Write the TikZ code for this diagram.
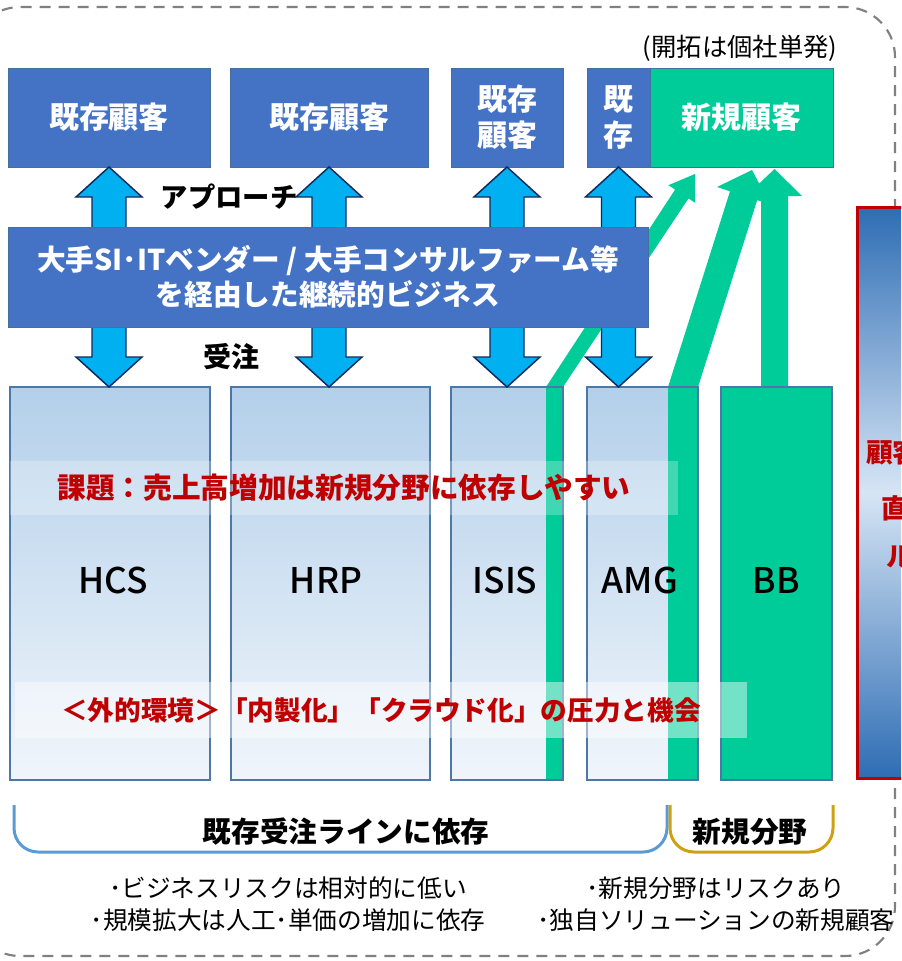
\documentclass[tikz,border=0pt]{standalone}
\usepackage{fontspec}
\setmainfont{Noto Sans CJK JP}
\newfontfamily\medfont{Noto Sans CJK JP Medium}
\usetikzlibrary{calc}
\definecolor{dkblue}{HTML}{4472C4}
\definecolor{dkedge}{HTML}{41719C}
\definecolor{skyblue}{HTML}{00B0F0}
\definecolor{navyline}{HTML}{0E2A5C}
\definecolor{grn}{HTML}{00CC99}
\definecolor{ltop}{HTML}{B3D0EA}
\definecolor{lbot}{HTML}{F0F5FB}
\definecolor{ledge}{HTML}{4C77A6}
\definecolor{redtxt}{HTML}{C00000}
\definecolor{brblue}{HTML}{5B9BD5}
\definecolor{brgold}{HTML}{D0A010}
\definecolor{dashgray}{HTML}{808080}
\definecolor{rbdark}{HTML}{2E6DB4}
\definecolor{rblight}{HTML}{D6E5F5}
\tikzset{
 topbox/.style={draw=dkedge, line width=0.75pt, fill=dkblue, text=white, font=\fontsize{22.5}{27}\selectfont\bfseries, align=center, inner sep=0pt, outer sep=0pt},
 grnbox/.style={topbox, fill=grn},
 botbox/.style={draw=ledge, line width=1.1pt, top color=ltop, bottom color=lbot, inner sep=0pt, outer sep=0pt},
 boxlabel/.style={text=black, font=\fontsize{26.5}{30}\medfont, inner sep=0pt},
 dblarrow/.style={fill=skyblue, draw=navyline, line width=1.1pt, line join=miter},
 grnarrow/.style={fill=grn, draw=none},
 band/.style={fill=white, draw=none, text opacity=1, inner sep=0pt},
 redlabel/.style={text=redtxt, font=\fontsize{21.5}{26}\selectfont\bfseries},
 blacklabel/.style={text=black, font=\fontsize{20.5}{25}\selectfont\bfseries, inner sep=0pt},
 note/.style={text=black, font=\fontsize{18.5}{24}\selectfont, align=center, inner sep=0pt},
 bracket/.style={line width=2.25pt, rounded corners=18pt},
}
\newcommand\dblarr[2]{%
 \draw[dblarrow] let \p1=(#1.south), \p2=(#2.north) in
  (\x1-12.75pt,\y1-22.5pt) -- (\x1-24.75pt,\y1-22.5pt) -- (\x1,\y1) -- (\x1+24.75pt,\y1-22.5pt) -- (\x1+12.75pt,\y1-22.5pt)
  -- (\x1+12.75pt,\y2+22.5pt) -- (\x1+24.75pt,\y2+22.5pt) -- (\x1,\y2) -- (\x1-24.75pt,\y2+22.5pt) -- (\x1-12.75pt,\y2+22.5pt) -- cycle;}
\begin{document}
\begin{tikzpicture}[x=0.75pt, y=-0.75pt]
\useasboundingbox (0,0) rectangle (901,961);
\begin{scope}
\clip (0,0) rectangle (901,961);
% outer dashed frame
\draw[dashgray, line width=1.6pt, dash pattern=on 8.25pt off 6pt, rounded corners=37.5pt] (-30,7) rectangle (895,956);

% green arrows (behind)
\fill[grnarrow] (546,387) -- (563,387) -- (688.5,198.4) -- (695.2,202.8) -- (695,174) -- (668.4,185.2) -- (675.1,189.6) -- cycle;
\fill[grnarrow] (668,387) -- (698,387) -- (757.2,200.1) -- (770.2,204.4) -- (752,170) -- (717,187) -- (730,191.3) -- cycle;
\fill[grnarrow] (761,387) -- (788,387) -- (788,196) -- (802,196) -- (774.5,169) -- (746,196) -- (761,196) -- cycle;

% top boxes
\node[topbox, minimum width=151.5pt, minimum height=74.25pt] (t1) at (109,117.5) {既存顧客};
\node[topbox, minimum width=148.5pt, minimum height=74.25pt] (t2) at (329,117.5) {既存顧客};
\node[topbox, minimum width=84pt, minimum height=74.25pt] (t3) at (507,117.5) {既存\\顧客};
\node[topbox, minimum width=47.25pt, minimum height=74.25pt] (t4) at (618.5,117.5) {既\\存};
\node[grnbox, minimum width=137.25pt, minimum height=74.25pt] (t5) at (741.5,117.5) {新規顧客};
\node[text=black, font=\fontsize{19}{23}\selectfont, inner sep=0pt] (kaitaku) at (740,48) {(開拓は個社単発)};

% bottom boxes
\node[botbox, minimum width=150pt, minimum height=294.75pt] (b1) at (110,583.5) {};
\node[botbox, minimum width=149.25pt, minimum height=294.75pt] (b2) at (330.5,583.5) {};
\node[botbox, minimum width=84pt, minimum height=294.75pt] (b3) at (507,583.5) {};
\node[botbox, minimum width=83.25pt, minimum height=294.75pt] (b4) at (642.5,583.5) {};
\node[draw=ledge, line width=1.1pt, fill=grn, inner sep=0pt, outer sep=0pt, minimum width=83.25pt, minimum height=294.75pt] (b5) at (776.5,583.5) {};
\fill[grn] (546,387) rectangle (562,780);
\fill[grn] (668,387) rectangle (697,780);
\draw[ledge, line width=1.1pt] (b3.south west) rectangle (b3.north east);
\draw[ledge, line width=1.1pt] (b4.south west) rectangle (b4.north east);

% double arrows
\dblarr{t1}{b1}
\dblarr{t2}{b2}
\dblarr{t3}{b3}
\dblarr{t4}{b4}

% middle box
\node[topbox, font=\fontsize{21.5}{26.25}\selectfont\bfseries, minimum width=480pt, minimum height=75pt] (m) at (328,277) {大手SI･ITベンダー / 大手コンサルファーム等\\を経由した継続的ビジネス};

\node[blacklabel] (appr) at (229,197) {アプローチ};
\node[blacklabel, font=\fontsize{21}{25}\selectfont\bfseries] (juchu) at (231,357) {受注};

% box labels
\node[boxlabel] (lhcs) at (113,580) {HCS};
\node[boxlabel] (lhrp) at (326,580) {HRP};
\node[boxlabel] (lisis) at (505,580) {ISIS};
\node[boxlabel] (lamg) at (640,580) {AMG};
\node[boxlabel] (lbb) at (776,580) {BB};

% bands
\node[band, fill opacity=0.25, minimum width=501pt, minimum height=40.5pt, redlabel] (issue) at (344,487.5) {課題：売上高増加は新規分野に依存しやすい};
\node[band, fill opacity=0.45, minimum width=549pt, minimum height=42pt, redlabel, font=\fontsize{20}{25}\selectfont\bfseries] (env) at (381,710) {＜外的環境＞「内製化」「クラウド化」の圧力と機会};

% brackets
\draw[bracket, brblue] (14,805) -- (14,852) -- (667,852) -- (667,805);
\draw[bracket, brgold] (670,805) -- (670,852) -- (833,852) -- (833,805);
\node[blacklabel, font=\fontsize{21.5}{26}\selectfont\bfseries] (izon) at (346,832) {既存受注ラインに依存};
\node[blacklabel, font=\fontsize{21.5}{26}\selectfont\bfseries] (shinki) at (750,832) {新規分野};

\node[note] (n1) at (288,904) {･ビジネスリスクは相対的に低い\\･規模拡大は人工･単価の増加に依存};
\node[note] (n2) at (716,904) {･新規分野はリスクあり\\･独自ソリューションの新規顧客};

% right red box
\node[draw=redtxt, line width=2.25pt, top color=rbdark, bottom color=rbdark, middle color=rblight, inner sep=0pt, outer sep=0pt, minimum width=77pt, minimum height=428.25pt, anchor=north west] (redbox) at (857,207) {};
\node[redlabel, font=\fontsize{20}{24}\selectfont\bfseries, anchor=west, inner sep=0pt] (r1) at (866,452) {顧客};
\node[redlabel, font=\fontsize{20}{24}\selectfont\bfseries, anchor=west, inner sep=0pt] (r2) at (881,508) {直};
\node[redlabel, font=\fontsize{20}{24}\selectfont\bfseries, anchor=west, inner sep=0pt] (r3) at (886,557) {ル};
\end{scope}
\end{tikzpicture}
\end{document}
